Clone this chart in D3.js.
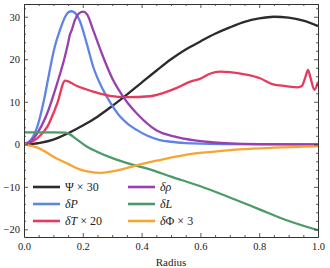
<!DOCTYPE html>
<html>
<head>
<meta charset="utf-8">
<script src="https://cdn.jsdelivr.net/npm/d3@7"></script>
<style>
  body { margin: 0; background: #fff; }
  svg text { font-family: "Liberation Serif", "Times New Roman", "DejaVu Serif", serif; fill: #222; }
</style>
</head>
<body>
<div id="chart"></div>
<script>
// curves, [radius, value]
const psi = [[0,0],[0.05,0.3],[0.1,1.1],[0.15,2.6],[0.2,4.4],[0.25,6.5],[0.3,9],[0.35,11.7],[0.4,14.5],[0.45,17.3],[0.5,20],[0.55,22.3],[0.6,24.2],[0.65,26],[0.7,27.5],[0.75,28.8],[0.8,29.6],[0.85,30],[0.9,29.8],[0.95,29.1],[1.0,27.8]];
const dP = [[0,0],[0.023,1],[0.045,4.1],[0.068,10.4],[0.085,16.5],[0.102,22.2],[0.122,26.8],[0.14,30],[0.152,31.1],[0.162,31.3],[0.175,30.8],[0.19,29],[0.213,23.8],[0.235,18.3],[0.269,12.8],[0.29,10.2],[0.326,6.6],[0.35,5],[0.383,3.4],[0.42,2],[0.462,1],[0.5,0.6],[0.55,0.3],[0.6,0.15],[0.7,0.05],[0.8,0],[1.0,0]];
const dRho = [[0,0],[0.02,0.5],[0.045,2.6],[0.079,7.3],[0.113,14.4],[0.139,20.6],[0.15,23.8],[0.156,25.8],[0.162,26.8],[0.173,29.2],[0.184,30.6],[0.201,31.2],[0.215,30.5],[0.235,26.9],[0.269,20.6],[0.303,15.1],[0.337,11.2],[0.354,9.6],[0.383,7.3],[0.45,3.3],[0.52,1.7],[0.62,0.6],[0.7,0.2],[0.8,0.05],[1.0,0]];
const dT = [[0,0],[0.045,1.4],[0.079,4.1],[0.113,9.6],[0.14,15],[0.18,13.7],[0.235,12.4],[0.292,11.4],[0.349,11.1],[0.428,11.3],[0.47,12],[0.518,13.2],[0.564,14.7],[0.598,15.4],[0.632,16.6],[0.666,17.1],[0.7,17],[0.756,16.4],[0.801,15.6],[0.847,14.1],[0.891,13.7],[0.931,13.4],[0.945,13.7],[0.958,16],[0.966,17.5],[0.975,15.5],[0.988,12.8],[1.0,14.7]];
const dL = [[0,2.8],[0.05,2.8],[0.1,2.8],[0.14,2.75],[0.155,2.4],[0.175,1.4],[0.213,-0.5],[0.25,-1.8],[0.303,-3.3],[0.36,-4.6],[0.428,-5.9],[0.5,-7.6],[0.598,-9.8],[0.7,-12.5],[0.801,-15.3],[0.891,-17.8],[1.0,-20.2]];
const dPhi = [[0,0],[0.05,-0.9],[0.1,-2.9],[0.15,-4.6],[0.19,-5.9],[0.225,-6.5],[0.258,-6.7],[0.29,-6.5],[0.326,-6],[0.38,-5],[0.428,-4.2],[0.462,-3.7],[0.564,-2.3],[0.65,-1.7],[0.733,-1.2],[0.85,-0.8],[1.0,-0.5]];

const xTicks = [0, 0.2, 0.4, 0.6, 0.8, 1.0];
const yTicks = [-20, -10, 0, 10, 20, 30];

const series = [
  {data: psi,  color: "#2b2b2b", label: [["Ψ",""],[" × 30",""]]},
  {data: dP,   color: "#5f84e6", label: [["δP","italic"]]},
  {data: dT,   color: "#e63a5e", label: [["δT","italic"],[" × 20",""]]},
  {data: dRho, color: "#9a3fae", label: [["δρ","italic"]]},
  {data: dL,   color: "#4b9a68", label: [["δL","italic"]]},
  {data: dPhi, color: "#f9a333", label: [["δ","italic"],["Φ",""],[" × 3",""]]}
];

const serif = "Liberation Serif, Times New Roman, DejaVu Serif, serif";
const margin = {top: 4, right: 12, bottom: 31, left: 24},
    width = 330 - margin.left - margin.right,
    height = 268 - margin.top - margin.bottom;

const svg = d3.select("#chart").append("svg")
    .attr("width", 330).attr("height", 268)
    .attr("font-family", serif)
  .append("g").attr("transform", "translate(" + margin.left + "," + margin.top + ")");

const x = d3.scaleLinear().domain([0, 1]).range([0, width]);
const y = d3.scaleLinear().domain([-21.8, 33]).range([height, 0]);

// curves first, frame on top
const line = d3.line().x(d => x(d[0])).y(d => y(d[1])).curve(d3.curveMonotoneX);
svg.append("defs").append("clipPath").attr("id", "clip")
  .append("rect").attr("width", width).attr("height", height);
series.forEach(s => {
  svg.append("path").datum(s.data)
    .attr("clip-path", "url(#clip)")
    .attr("fill", "none")
    .attr("stroke", s.color)
    .attr("stroke-width", 2.3)
    .attr("stroke-linejoin", "round")
    .attr("d", line);
});

// frame with inward ticks on all sides
const isMajX = d => xTicks.includes(+d.toFixed(2));
const isMajY = d => yTicks.includes(d);
const fmtX = d => isMajX(d) ? d3.format(".1f")(d) : "";
const fmtY = d => isMajY(d) ? String(d).replace("-", "\u2212") : "";
const xMinor = d3.range(0, 1.0001, 0.05);
const yMinor = d3.range(-20, 33, 2);

const axB = svg.append("g").attr("transform", "translate(0," + height + ")")
  .call(d3.axisBottom(x).tickValues(xMinor).tickSizeOuter(0).tickFormat(fmtX));
const axT = svg.append("g")
  .call(d3.axisTop(x).tickValues(xMinor).tickSizeOuter(0).tickFormat(""));
const axL = svg.append("g")
  .call(d3.axisLeft(y).tickValues(yMinor).tickSizeOuter(0).tickFormat(fmtY));
const axR = svg.append("g").attr("transform", "translate(" + width + ",0)")
  .call(d3.axisRight(y).tickValues(yMinor).tickSizeOuter(0).tickFormat(""));

axB.selectAll(".tick line").attr("y2", d => isMajX(d) ? -4 : -2);
axT.selectAll(".tick line").attr("y2", d => isMajX(d) ? 4 : 2);
axL.selectAll(".tick line").attr("x2", d => isMajY(d) ? 4 : 2);
axR.selectAll(".tick line").attr("x2", d => isMajY(d) ? -4 : -2);
axB.selectAll(".tick text").attr("y", 6);
axL.selectAll(".tick text").attr("x", -4);

[axB, axT, axL, axR].forEach(g => {
  g.attr("font-family", serif);
  g.selectAll(".domain").attr("stroke", "#333").attr("stroke-width", 1);
  g.selectAll(".tick line").attr("stroke", "#333").attr("stroke-width", 0.8);
  g.selectAll("text").attr("font-size", 10.5).attr("fill", "#222");
});

svg.append("text")
  .attr("x", width / 2).attr("y", height + 29)
  .attr("text-anchor", "middle").attr("font-size", 11)
  .text("Radius");

// legend, two columns of three
const legend = svg.append("g");
series.forEach((s, i) => {
  const col = Math.floor(i / 3), row = i % 3;
  const lx = col === 0 ? 9 : 104, ly = 183 + row * 17;
  legend.append("line")
    .attr("x1", lx).attr("x2", lx + 27).attr("y1", ly).attr("y2", ly)
    .attr("stroke", s.color).attr("stroke-width", 2.6);
  const t = legend.append("text").attr("x", lx + 32).attr("y", ly + 4).attr("font-size", 12);
  s.label.forEach(p => {
    t.append("tspan").attr("font-style", p[1] || null).text(p[0]);
  });
});
</script>
</body>
</html>
